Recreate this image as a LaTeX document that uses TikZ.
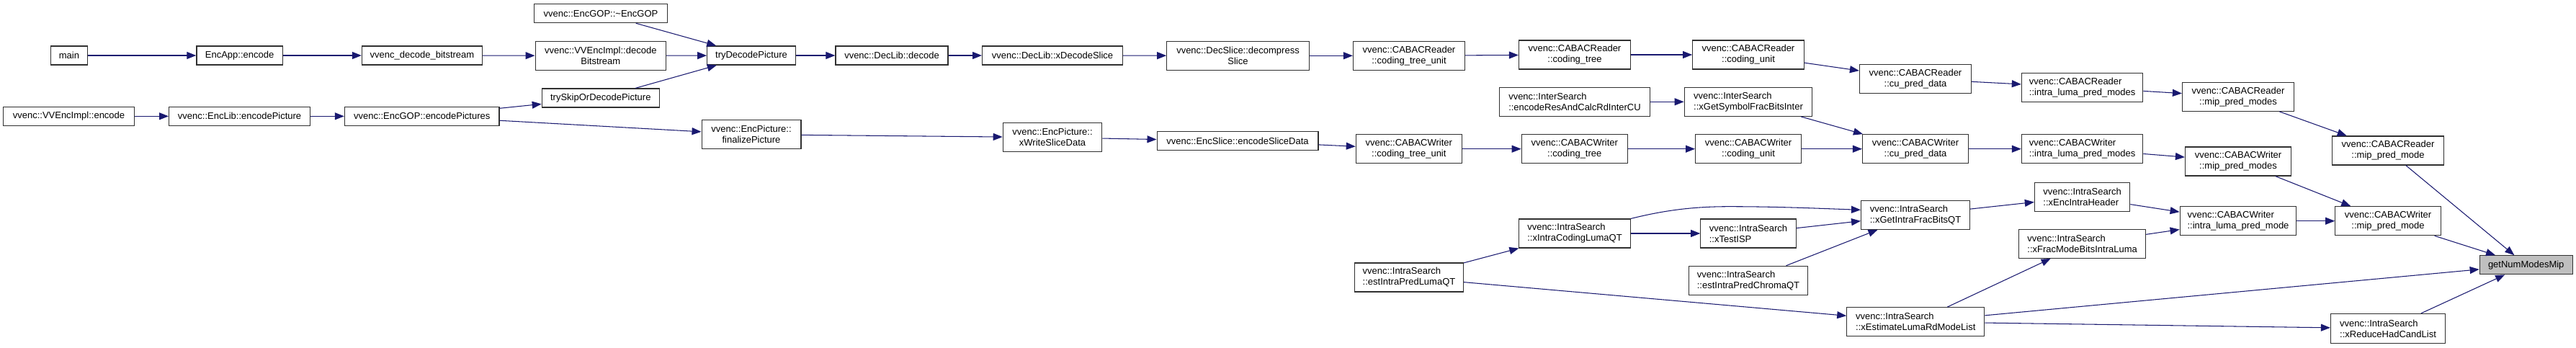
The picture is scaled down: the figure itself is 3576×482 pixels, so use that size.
\documentclass[tikz,border=0pt]{standalone}
\usepackage{fontspec}
\setmainfont{Liberation Sans}
\usetikzlibrary{arrows.meta}
\definecolor{edgeblue}{HTML}{191970}
\definecolor{boxline}{HTML}{303030}
\definecolor{targetfill}{HTML}{BFBFBF}
\begin{document}
\begin{tikzpicture}[x=1pt,y=-1pt,
  fn/.style={draw=boxline, line width=1.2pt, fill=white, inner sep=0pt, align=center,
             font=\fontsize{13}{15}\selectfont, text=black},
  lft/.style={fn, align=left},
  one/.style={minimum height=26pt},
  two/.style={minimum height=40pt},
  edge/.style={draw=edgeblue, line width=1.05pt, -{Triangle[length=13pt,width=10pt]}}]
\fill[white] (0,0) rectangle (3576,482);
\useasboundingbox (0,0) rectangle (3576,482);

% left part
\node[fn,one,minimum width=50.5pt] (main) at (96,77) {main};
\node[fn,one,minimum width=119.4pt] (encapp) at (332.6,77) {EncApp::encode};
\node[fn,one,minimum width=167pt] (decbs) at (586,77) {vvenc\_decode\_bitstream};
\node[fn,one,minimum width=181.8pt] (implenc) at (95.5,161.3) {vvenc::VVEncImpl::encode};
\node[fn,one,minimum width=196pt] (enclib) at (332.6,161.3) {vvenc::EncLib::encodePicture};
\node[fn,one,minimum width=214.6pt] (gopenc) at (585.7,161.3) {vvenc::EncGOP::encodePictures};
\node[fn,one,minimum width=185.6pt] (dtor) at (834,18.7) {vvenc::EncGOP::\textasciitilde EncGOP};
\node[fn,two,minimum width=181.4pt] (impldec) at (833.8,77.3) {vvenc::VVEncImpl::decode\\Bitstream};
\node[fn,one,minimum width=122.5pt] (trydec) at (1043,77) {tryDecodePicture};
\node[fn,one,minimum width=163pt] (tryskip) at (833.8,136) {trySkipOrDecodePicture};
\node[fn,two,minimum width=137.8pt] (finpic) at (1043,186.7) {vvenc::EncPicture::\\finalizePicture};
\node[fn,one,minimum width=156pt] (declib) at (1238,77) {vvenc::DecLib::decode};
\node[fn,one,minimum width=194.8pt] (xdecsl) at (1461,77) {vvenc::DecLib::xDecodeSlice};
\node[fn,two,minimum width=197.4pt] (decomp) at (1718.5,77.3) {vvenc::DecSlice::decompress\\Slice};
\node[fn,two,minimum width=137.4pt] (xwsd) at (1461,190.7) {vvenc::EncPicture::\\xWriteSliceData};
\node[fn,one,minimum width=223.8pt] (esd) at (1718,195.7) {vvenc::EncSlice::encodeSliceData};

% CABAC reader / writer chains
\node[fn,two,minimum width=155pt] (rctu) at (1956,77.3) {vvenc::CABACReader\\::coding\_tree\_unit};
\node[fn,two,minimum width=155pt] (rct) at (2186,76) {vvenc::CABACReader\\::coding\_tree};
\node[fn,two,minimum width=154.5pt] (rcu) at (2427,76) {vvenc::CABACReader\\::coding\_unit};
\node[lft,two,minimum width=209.3pt] (inter1) at (2186,141.3) {vvenc::InterSearch\\::encodeResAndCalcRdInterCU};
\node[lft,two,minimum width=177.5pt] (inter2) at (2427,141.3) {vvenc::InterSearch\\::xGetSymbolFracBitsInter};
\node[fn,two,minimum width=147pt] (wctu) at (1955.8,206.7) {vvenc::CABACWriter\\::coding\_tree\_unit};
\node[fn,two,minimum width=147pt] (wct) at (2185.8,206.7) {vvenc::CABACWriter\\::coding\_tree};
\node[fn,two,minimum width=146.8pt] (wcu) at (2427,206.7) {vvenc::CABACWriter\\::coding\_unit};
\node[fn,two,minimum width=155pt] (rcpd) at (2659,109.3) {vvenc::CABACReader\\::cu\_pred\_data};
\node[lft,two,minimum width=168.4pt] (rilpm) at (2890.6,121.3) {vvenc::CABACReader\\::intra\_luma\_pred\_modes};
\node[fn,two,minimum width=147pt] (wcpd) at (2659,206.7) {vvenc::CABACWriter\\::cu\_pred\_data};
\node[lft,two,minimum width=168.4pt] (wilpms) at (2890.6,206.7) {vvenc::CABACWriter\\::intra\_luma\_pred\_modes};
\node[fn,two,minimum width=155pt] (rmpms) at (3107,134.3) {vvenc::CABACReader\\::mip\_pred\_modes};
\node[fn,two,minimum width=154.6pt] (rmpm) at (3315,209) {vvenc::CABACReader\\::mip\_pred\_mode};
\node[fn,two,minimum width=147pt] (wmpms) at (3107,224) {vvenc::CABACWriter\\::mip\_pred\_modes};
\node[lft,two,minimum width=161.6pt] (wilpm) at (3107,306.7) {vvenc::CABACWriter\\::intra\_luma\_pred\_mode};
\node[fn,two,minimum width=146.5pt] (wmpm) at (3315,306.7) {vvenc::CABACWriter\\::mip\_pred\_mode};
\node[fn,one,minimum width=129pt,fill=targetfill] (target) at (3506.7,367.8) {getNumModesMip};
\node[lft,two,minimum width=159pt,minimum height=41pt] (xrhcl) at (3315,456) {vvenc::IntraSearch\\::xReduceHadCandList};

% IntraSearch part
\node[lft,two,minimum width=151pt] (eiplq) at (1956,385) {vvenc::IntraSearch\\::estIntraPredLumaQT};
\node[lft,two,minimum width=155pt] (xiclq) at (2186,324) {vvenc::IntraSearch\\::xIntraCodingLumaQT};
\node[lft,two,minimum width=132.4pt] (xtisp) at (2427,324) {vvenc::IntraSearch\\::xTestISP};
\node[lft,two,minimum width=165.6pt] (eipcq) at (2427,389.3) {vvenc::IntraSearch\\::estIntraPredChromaQT};
\node[lft,two,minimum width=150.8pt] (xgifb) at (2659,298.3) {vvenc::IntraSearch\\::xGetIntraFracBitsQT};
\node[lft,two,minimum width=132.4pt] (xeih) at (2890.6,273.3) {vvenc::IntraSearch\\::xEncIntraHeader};
\node[lft,two,minimum width=176pt] (xfmb) at (2890.6,338.3) {vvenc::IntraSearch\\::xFracModeBitsIntraLuma};
\node[lft,two,minimum width=191pt] (xelrd) at (2659.3,446.7) {vvenc::IntraSearch\\::xEstimateLumaRdModeList};

% edges
\draw[edge] (main) -- (encapp);
\draw[edge] (encapp) -- (decbs);
\draw[edge] (decbs) -- (impldec);
\draw[edge] (impldec) -- (trydec);
\draw[edge] (dtor) -- (trydec);
\draw[edge] (tryskip) -- (trydec);
\draw[edge] (implenc) -- (enclib);
\draw[edge] (enclib) -- (gopenc);
\draw[edge] (gopenc) -- (tryskip);
\draw[edge] (gopenc) -- (finpic);
\draw[edge] (trydec) -- (declib);
\draw[edge] (declib) -- (xdecsl);
\draw[edge] (xdecsl) -- (decomp);
\draw[edge] (decomp) -- (rctu);
\draw[edge] (rctu) -- (rct);
\draw[edge] (rct) -- (rcu);
\draw[edge] (rcu) -- (rcpd);
\draw[edge] (rcpd) -- (rilpm);
\draw[edge] (rilpm) -- (rmpms);
\draw[edge] (rmpms) -- (rmpm);
\draw[edge] (rmpm) -- (target);
\draw[edge] (finpic) -- (xwsd);
\draw[edge] (xwsd) -- (esd);
\draw[edge] (esd) -- (wctu);
\draw[edge] (wctu) -- (wct);
\draw[edge] (wct) -- (wcu);
\draw[edge] (wcu) -- (wcpd);
\draw[edge] (inter1) -- (inter2);
\draw[edge] (inter2) -- (wcpd);
\draw[edge] (wcpd) -- (wilpms);
\draw[edge] (wilpms) -- (wmpms);
\draw[edge] (wmpms) -- (wmpm);
\draw[edge] (wilpm) -- (wmpm);
\draw[edge] (wmpm) -- (target);
\draw[edge] (eiplq) -- (xiclq);
\draw[edge] (eiplq) -- (xelrd);
\draw[edge] (xiclq) -- (xtisp);
\draw[edge] (xiclq.north east) .. controls (2310,292) and (2350,286.7) .. (2400,286.7)
   .. controls (2470,286.7) and (2530,289.5) .. ([yshift=7pt]xgifb.west);
\draw[edge] (xtisp) -- (xgifb);
\draw[edge] (eipcq) -- (xgifb);
\draw[edge] (xgifb) -- (xeih);
\draw[edge] (xeih) -- (wilpm);
\draw[edge] (xfmb) -- (wilpm);
\draw[edge] (xelrd) -- (xfmb);
\draw[edge] (xelrd) -- (target);
\draw[edge] (xelrd) -- (xrhcl);
\draw[edge] (xrhcl) -- (target);
\end{tikzpicture}
\end{document}
